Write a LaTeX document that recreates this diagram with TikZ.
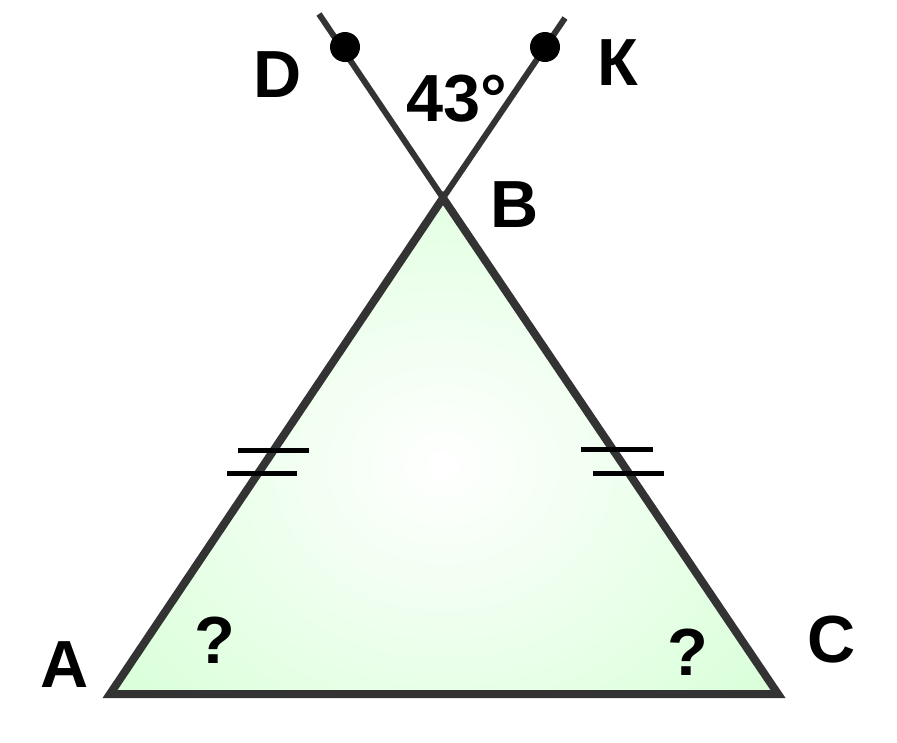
\documentclass[tikz,border=0pt]{standalone}
\usepackage{fontspec}
\setmainfont{Liberation Sans}
\definecolor{edgegray}{RGB}{51,51,51}
\definecolor{trigreen}{RGB}{204,255,204}

\begin{document}
\begin{tikzpicture}
      [x=0.75pt, y=-0.75pt,
      side/.style={draw=edgegray, line width=6pt, line join=miter},
      ray/.style={draw=edgegray, line width=4.5pt},
      tick/.style={draw=black, line width=3.75pt},
      dot/.style={circle, fill=black, inner sep=0pt, minimum size=22.5pt},
      lbl/.style={anchor=base, inner sep=0pt,
        font=\fontsize{50}{60}\selectfont\bfseries}]
      \useasboundingbox (0, 0) rectangle (897, 743);
      % triangle corners
      \coordinate (A) at (110, 694);
      \coordinate (B) at (443, 198);
      \coordinate (C) at (778, 694);
      % free ends of the two rays
      \coordinate (Dend) at (319, 14);
      \coordinate (Kend) at (565, 18);
      \path[path picture={
          \shade[inner color=white, outer color=trigreen]
            (443, 465) ellipse [x radius=560, y radius=480];}]
        (A) -- (B) -- (C) -- cycle;
      \draw[ray] (B) -- (Dend);
      \draw[ray] (B) -- (Kend);
      \draw[side] (A) -- (B) -- (C) -- cycle;
      \node (D) at (345, 47) [dot] {};
      \node (K) at (545, 47) [dot] {};
      % equal sides
      \draw[tick] (238, 450) -- (309, 450);
      \draw[tick] (227, 473) -- (297, 473);
      \draw[tick] (581, 449) -- (653, 449);
      \draw[tick] (593, 473) -- (664, 473);
      % labels
      \node (labD) at (278, 97) [lbl] {D};
      \node (labK) at (618, 85) [lbl] {К};
      \node (angle) at (457, 121) [lbl] {43°};
      \node (labB) at (515, 227) [lbl] {B};
      \node (labA) at (65, 687) [lbl] {A};
      \node (labC) at (832, 662) [lbl] {C};
      \node (qA) at (215, 663) [lbl] {?};
      \node (qC) at (688, 675) [lbl] {?};
    \end{tikzpicture}
\end{document}
